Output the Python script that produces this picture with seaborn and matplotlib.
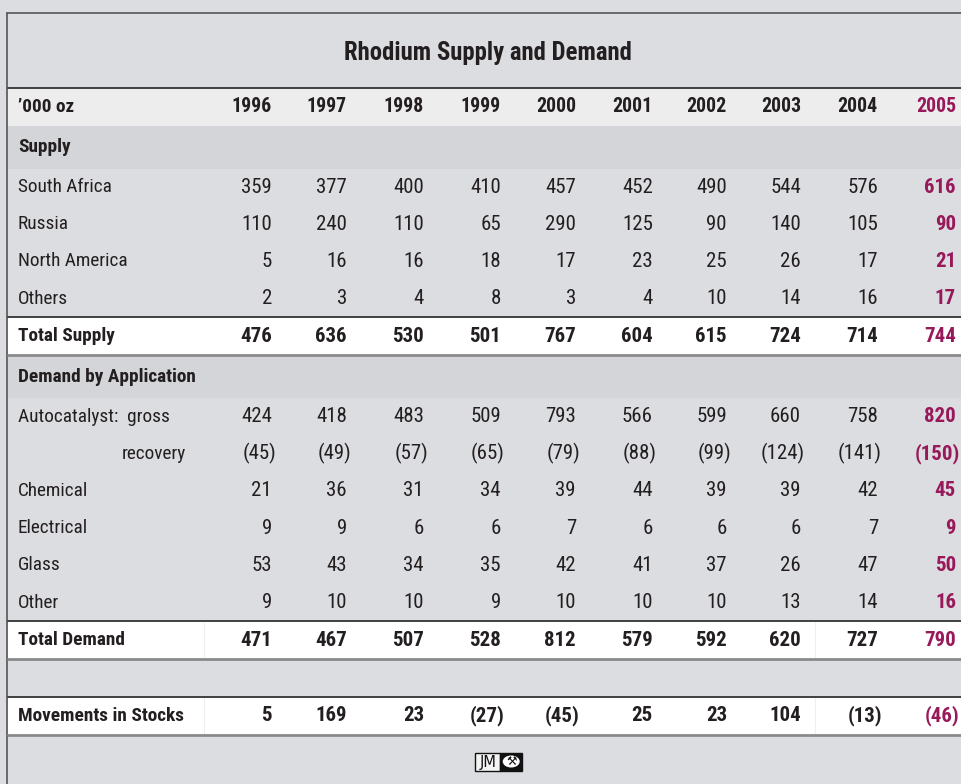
import matplotlib
matplotlib.use("Agg")
import matplotlib.pyplot as plt
from matplotlib import font_manager
from matplotlib.patches import Rectangle, Ellipse
import seaborn as sns

# Rhodium supply and demand, '000 oz
years = ["1996", "1997", "1998", "1999", "2000", "2001", "2002", "2003", "2004", "2005"]
south_africa = [359, 377, 400, 410, 457, 452, 490, 544, 576, 616]
russia = [110, 240, 110, 65, 290, 125, 90, 140, 105, 90]
north_america = [5, 16, 16, 18, 17, 23, 25, 26, 17, 21]
others = [2, 3, 4, 8, 3, 4, 10, 14, 16, 17]
total_supply = [476, 636, 530, 501, 767, 604, 615, 724, 714, 744]
auto_gross = [424, 418, 483, 509, 793, 566, 599, 660, 758, 820]
auto_recovery = [-45, -49, -57, -65, -79, -88, -99, -124, -141, -150]
chemical = [21, 36, 31, 34, 39, 44, 39, 39, 42, 45]
electrical = [9, 9, 6, 6, 7, 6, 6, 6, 7, 9]
glass = [53, 43, 34, 35, 42, 41, 37, 26, 47, 50]
other = [9, 10, 10, 9, 10, 10, 10, 13, 14, 16]
total_demand = [471, 467, 507, 528, 812, 579, 592, 620, 727, 790]
movements = [5, 169, 23, -27, -45, 25, 23, 104, -13, -46]

rows = [
    ("\u2019000 oz", years, "head"),
    ("Supply", None, "section"),
    ("South Africa", south_africa, "data"),
    ("Russia", russia, "data"),
    ("North America", north_america, "data"),
    ("Others", others, "data"),
    ("Total Supply", total_supply, "total"),
    ("Demand by Application", None, "section"),
    ("Autocatalyst:  gross", auto_gross, "data"),
    ("recovery", auto_recovery, "data"),
    ("Chemical", chemical, "data"),
    ("Electrical", electrical, "data"),
    ("Glass", glass, "data"),
    ("Other", other, "data"),
    ("Total Demand", total_demand, "total"),
    ("", None, "blank"),
    ("Movements in Stocks", movements, "total"),
]

sns.set_theme(style="white")

TXT = "#231f20"
MAG = "#98195a"
BG = "#dcdde0"
HEAD_BG = "#ededee"
SEC_BG = "#d4d5d8"

fig = plt.figure(figsize=(9.62, 7.84), dpi=100)
fig.patch.set_facecolor(BG)
ax = fig.add_axes([0, 0, 1, 1])
ax.set_xlim(0, 962)
ax.set_ylim(784, 0)
ax.axis("off")


# sans faces that have both a regular and a bold cut
def wnum(w):
    return font_manager.weight_dict.get(w, 400) if isinstance(w, str) else w


faces = {}
for f in font_manager.fontManager.ttflist:
    if "Serif" in f.name or "Mono" in f.name:
        continue
    key = (f.name, f.stretch)
    faces.setdefault(key, set()).add("bold" if wnum(f.weight) >= 600 else "reg")
candidates = [k for k, v in faces.items() if v == {"bold", "reg"}
              and k[1] in ("normal", "condensed", "semi-condensed")
              and k[0] in ("DejaVu Sans", "Liberation Sans Narrow", "Roboto",
                           "Liberation Sans", "Lato", "Noto Sans", "Roboto Condensed")]
if not candidates:
    candidates = [("DejaVu Sans", "normal")]
renderer = fig.canvas.get_renderer()


def width(s, fam, st, size, weight):
    t = ax.text(0, 0, s, fontsize=size, family=[fam], fontstretch=st, fontweight=weight)
    w = t.get_window_extent(renderer).width
    t.remove()
    return w


FONT, STRETCH = min(candidates, key=lambda c: width("Movements in Stocks", c[0], c[1], 15, "bold"))
plt.rcParams["font.family"] = [FONT, "DejaVu Sans"]

FS = min(15.5, 15 * 166 / width("Movements in Stocks", FONT, STRETCH, 15, "bold"))
NS = min(16.5, FS * 1.08)
TS = min(18.5, 18 * 287 / width("Rhodium Supply and Demand", FONT, STRETCH, 18, "bold"))

# frame
ax.plot([7.5, 7.5], [13, 784], color="#555555", lw=1.2)
ax.plot([7.5, 970], [13, 13], color="#555555", lw=1.2)

ax.text(488, 53, "Rhodium Supply and Demand", ha="center", va="center",
        fontsize=TS, fontweight="bold", color=TXT, fontstretch=STRETCH)

heights = {"head": 38, "section": 43, "data": 37.2, "total": 37.7, "blank": 38}
col_x = [272, 347, 424, 501, 576, 653, 727, 801, 878, 956]


def fmt(v):
    if isinstance(v, str):
        return v
    return f"({-v})" if v < 0 else str(v)


y = 87.5
for label, vals, kind in rows:
    h = heights[kind]
    face = {"head": HEAD_BG, "section": SEC_BG, "total": "white"}.get(kind)
    if face:
        ax.add_patch(Rectangle((8, y), 962, h, facecolor=face, edgecolor="none", zorder=0))
    if kind == "head":
        ax.plot([8, 970], [y, y], color="#333333", lw=1.3)
    if kind == "total":
        ax.plot([8, 970], [y, y], color="#333333", lw=1.3, zorder=3)
        ax.plot([8, 970], [y + h, y + h], color="#8a8a8a", lw=2, zorder=3)
        if label != "Total Supply":
            for vx in (204, 815):
                ax.plot([vx, vx], [y + 1, y + h - 1], color="#eeeeee", lw=0.8, zorder=1)
    cy = y + h / 2
    bold = kind in ("head", "section", "total")
    lx = 122 if label == "recovery" else 18
    ax.text(lx, cy, label, ha="left", va="center", fontsize=FS,
            fontweight="bold" if bold else "normal", color=TXT, fontstretch=STRETCH)
    if vals is not None:
        for i, v in enumerate(vals):
            last = i == len(vals) - 1
            off = 4 if (not isinstance(v, str) and v < 0) else 0
            ax.text(col_x[i] + off, cy, fmt(v), ha="right", va="center",
                    fontsize=FS * 1.03 if kind == "head" else NS,
                    fontweight="bold" if (bold or last) else "normal",
                    color=MAG if last else TXT, fontstretch=STRETCH)
    y += h

# logo
ax.add_patch(Rectangle((475.5, 752.5), 24.5, 18, facecolor="#f4f4f4", edgecolor="#111111", lw=1))
ax.add_patch(Rectangle((500, 752.5), 22.5, 18, facecolor="#111111", edgecolor="#111111", lw=1))
ax.add_patch(Ellipse((511.2, 761.5), 17, 12, facecolor="white", edgecolor="none"))
ax.text(487.8, 762, "JM", ha="center", va="center", fontsize=10.5, color="#111111",
        family="DejaVu Sans")
ax.text(511.2, 761.8, "\u2692", ha="center", va="center", fontsize=8.5, color="#111111",
        family="DejaVu Sans")

fig.savefig("out.png", dpi=100, facecolor=BG)
